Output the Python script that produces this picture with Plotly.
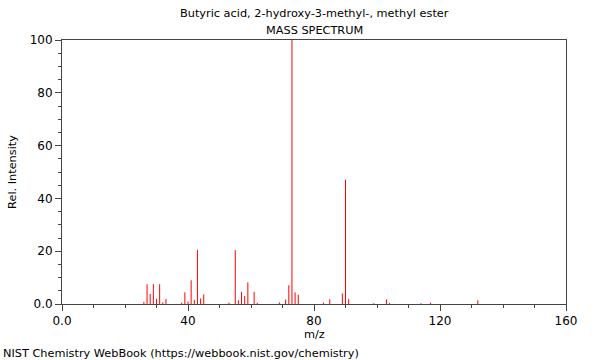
import plotly.graph_objects as go

# m/z values and relative intensities
mz = [26, 27, 28, 29, 30, 31, 32, 33,
      38, 39, 40, 41, 42, 43, 44, 45,
      53, 55, 56, 57, 58, 59, 61, 62,
      69, 71, 72, 73, 74, 75,
      83, 85, 89, 90, 91,
      99, 103, 104, 114, 117, 132]
intensity = [0.8, 7.5, 3.8, 7.5, 1.9, 7.5, 0.6, 1.9,
             0.5, 4.4, 0.9, 9.0, 1.6, 20.4, 2.1, 3.6,
             0.5, 20.4, 1.4, 4.6, 3.0, 8.2, 4.6, 0.5,
             0.6, 1.7, 7.1, 100.0, 4.4, 3.5,
             0.5, 1.8, 4.0, 47.1, 1.9,
             0.3, 1.7, 0.4, 0.3, 0.5, 1.4]

x_tickvals = [0, 40, 80, 120, 160]
x_ticktext = ["0.0", "40", "80", "120", "160"]
y_tickvals = [0, 20, 40, 60, 80, 100]
y_ticktext = ["0.0", "20", "40", "60", "80", "100"]

title_line1 = "Butyric acid, 2-hydroxy-3-methyl-, methyl ester"
title_line2 = "MASS SPECTRUM"
x_title = "m/z"
y_title = "Rel. Intensity"
footer = "NIST Chemistry WebBook (https://webbook.nist.gov/chemistry)"

xs, ys = [], []
for m, v in zip(mz, intensity):
    xs += [m, m, None]
    ys += [0, v, None]

fig = go.Figure()
fig.add_trace(go.Scatter(x=xs, y=ys, mode="lines",
                         line=dict(color="#ff0000", width=1),
                         hoverinfo="skip", showlegend=False))

TXT = 11.3
font = dict(family="DejaVu Sans", size=TXT, color="#000000")
axis_common = dict(showline=True, linecolor="#444444", linewidth=1, mirror=True,
                   ticks="outside", ticklen=6, tickcolor="#444444",
                   showgrid=False, zeroline=False, automargin=False,
                   tickfont=dict(family="DejaVu Sans", size=12, color="#000000"))

fig.update_layout(
    width=600, height=360,
    margin=dict(l=62, r=34, t=40, b=56),
    paper_bgcolor="white", plot_bgcolor="white",
    font=font,
    xaxis=dict(range=[0, 160], tickvals=x_tickvals, ticktext=x_ticktext,
               minor=dict(dtick=10, ticklen=3, ticks="outside", tickcolor="#444444"),
               **axis_common),
    yaxis=dict(range=[0, 100], tickvals=y_tickvals, ticktext=y_ticktext,
               title=dict(text=y_title, font=dict(size=TXT), standoff=10),
               minor=dict(dtick=5, ticklen=3, ticks="outside", tickcolor="#444444"),
               **axis_common),
    annotations=[
        dict(text=title_line1, xref="paper", yref="paper", x=0.5, y=1.0,
             yshift=27, xanchor="center", yanchor="middle", showarrow=False,
             font=dict(size=TXT)),
        dict(text=title_line2, xref="paper", yref="paper", x=0.5, y=1.0,
             yshift=10, xanchor="center", yanchor="middle", showarrow=False,
             font=dict(size=TXT)),
        dict(text=x_title, xref="paper", yref="paper", x=0.5, y=0,
             yshift=-30, xanchor="center", yanchor="middle", showarrow=False,
             font=dict(size=TXT)),
        dict(text=footer, xref="paper", yref="paper", x=-61/504, y=0,
             yshift=-49, xanchor="left", yanchor="middle", showarrow=False,
             font=dict(size=TXT)),
    ],
)

fig.write_html("out.html")
